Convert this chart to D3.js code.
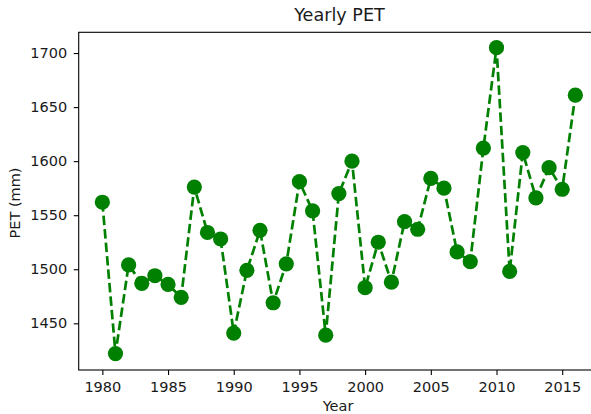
<!DOCTYPE html>
<html>
<head>
<meta charset="utf-8">
<script src="https://cdn.jsdelivr.net/npm/d3@7"></script>
<style>
  body { margin: 0; background: #fff; }
  svg { display: block; font-family: "DejaVu Sans", sans-serif; }
</style>
</head>
<body>
<div id="chart"></div>
<script>
// Yearly PET values (mm)
const years = d3.range(1980, 2017);
const pet = [1562, 1422, 1504, 1487, 1494, 1486, 1474, 1576, 1534, 1528,
             1441, 1499, 1536, 1469, 1505, 1581, 1554, 1439, 1570, 1600,
             1483, 1525, 1488, 1544, 1537, 1584, 1575, 1516, 1507, 1612,
             1705, 1498, 1608, 1566, 1594, 1574, 1661];
const xTicks = [1980, 1985, 1990, 1995, 2000, 2005, 2010, 2015];
const yTicks = [1450, 1500, 1550, 1600, 1650, 1700];

function init() {
    const width = 591, height = 414;
    const margin = {left: 78.7, top: 32.3, right: 599, bottom: 370};

    const svg = d3.select("#chart").append("svg")
        .attr("width", width)
        .attr("height", height);

    // Scales with matplotlib-like 5% padding
    const x = d3.scaleLinear().domain([1978.2, 2017.8]).range([margin.left, margin.right]);
    const y = d3.scaleLinear().domain([1406.8, 1719.2]).range([margin.bottom, margin.top]);

    // Axes
    const xAxis = svg.append("g")
        .attr("transform", `translate(0,${margin.bottom})`)
        .call(d3.axisBottom(x).tickValues(xTicks).tickFormat(d3.format("d")).tickSize(5).tickPadding(7));
    const yAxis = svg.append("g")
        .attr("transform", `translate(${margin.left},0)`)
        .call(d3.axisLeft(y).tickValues(yTicks).tickFormat(d3.format("d")).tickSize(5).tickPadding(6.5));

    [xAxis, yAxis].forEach(g => {
        g.select(".domain").remove();
        g.selectAll(".tick line").attr("stroke", "#000").attr("stroke-width", 1.1);
        g.selectAll(".tick text").attr("fill", "#1a1a1a").style("font-size", "14.5px")
            .style("font-family", "DejaVu Sans");
    });

    // Spines (the right one falls outside the window)
    svg.append("rect")
        .attr("x", margin.left)
        .attr("y", margin.top)
        .attr("width", margin.right - margin.left)
        .attr("height", margin.bottom - margin.top)
        .attr("fill", "none")
        .attr("stroke", "#000")
        .attr("stroke-width", 1.1);

    // Dashed line
    const line = d3.line()
        .x((d, i) => x(years[i]))
        .y(d => y(d));

    svg.append("path")
        .datum(pet)
        .attr("fill", "none")
        .attr("stroke", "green")
        .attr("stroke-width", 2.7)
        .attr("stroke-dasharray", "9.5,4")
        .attr("d", line);

    // Markers
    svg.selectAll(".dot")
        .data(pet)
        .enter()
        .append("circle")
        .attr("class", "dot")
        .attr("cx", (d, i) => x(years[i]))
        .attr("cy", d => y(d))
        .attr("r", 7.6)
        .attr("fill", "green");

    // Title and axis labels
    svg.append("text")
        .attr("x", 339.5)
        .attr("y", 21)
        .attr("text-anchor", "middle")
        .attr("fill", "#1a1a1a")
        .style("font-size", "17.6px")
        .text("Yearly PET");

    svg.append("text")
        .attr("x", 338)
        .attr("y", 411)
        .attr("text-anchor", "middle")
        .attr("fill", "#1a1a1a")
        .style("font-size", "14.5px")
        .text("Year");

    svg.append("text")
        .attr("transform", "translate(20,203) rotate(-90)")
        .attr("text-anchor", "middle")
        .attr("fill", "#1a1a1a")
        .style("font-size", "14.5px")
        .text("PET (mm)");
}

init();
</script>
</body>
</html>
